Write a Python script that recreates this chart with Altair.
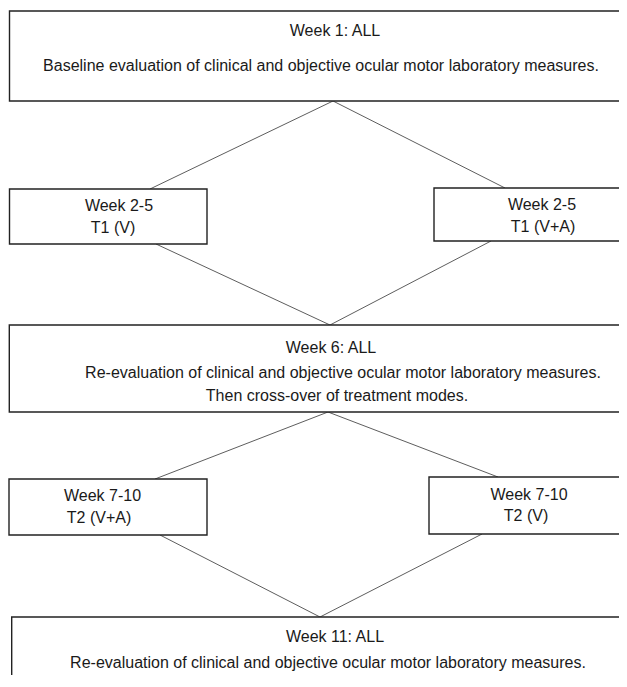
import altair as alt
import pandas as pd

# ---- flowchart nodes (boxes) ----
box_name = ["week1", "t1_v", "t1_va", "week6", "t2_va", "t2_v", "week11"]
box_left = [9.5, 9.5, 434, 9.3, 9, 429, 11.7]
box_right = [660, 207, 660, 660, 207, 660, 660]
box_top = [11, 189, 188, 325, 479, 477, 617]
box_bottom = [101, 244, 241, 412, 535, 534, 720]

# ---- connectors ----
link_x1 = [333, 333, 156, 491, 328, 328, 160, 482]
link_y1 = [101, 101, 244, 241, 412, 412, 535, 534]
link_x2 = [150, 505, 330, 330, 155, 498, 320, 320]
link_y2 = [189, 188, 325, 325, 479, 477, 617, 617]

# ---- labels ----
label_text = [
    "Week 1: ALL",
    "Baseline evaluation of clinical and objective ocular motor laboratory measures.",
    "Week 2-5", "T1 (V)",
    "Week 2-5", "T1 (V+A)",
    "Week 6: ALL",
    "Re-evaluation of clinical and objective ocular motor laboratory measures.",
    "Then cross-over of treatment modes.",
    "Week 7-10", "T2 (V+A)",
    "Week 7-10", "T2 (V)",
    "Week 11: ALL",
    "Re-evaluation of clinical and objective ocular motor laboratory measures.",
]
label_x = [335, 321, 119, 113, 542, 543, 331, 343, 337, 102.5, 99, 529, 526, 335, 328]
label_y = [31, 66, 206, 228, 205, 227, 348, 373, 396, 496, 518, 495, 516, 637, 663]
label_size = [16, 16, 16, 16, 16, 16, 16, 16, 16, 16, 16, 16, 16, 16, 16]

boxes = pd.DataFrame({"name": box_name, "x": box_left, "x2": box_right,
                      "y": box_top, "y2": box_bottom})
links = pd.DataFrame({"x": link_x1, "y": link_y1, "x2": link_x2, "y2": link_y2})
labels = pd.DataFrame({"text": label_text, "x": label_x, "y": label_y, "size": label_size})

X_MIN, X_MAX = 8, 619
Y_MIN, Y_MAX = 8, 675
xs = alt.Scale(domain=[X_MIN, X_MAX], nice=False, zero=False)
ys = alt.Scale(domain=[Y_MIN, Y_MAX], nice=False, zero=False, reverse=True)

link_layer = alt.Chart(links).mark_rule(stroke="#333333", strokeWidth=0.8, clip=True).encode(
    x=alt.X("x:Q", scale=xs, axis=None),
    y=alt.Y("y:Q", scale=ys, axis=None),
    x2="x2:Q",
    y2="y2:Q",
)

box_layer = alt.Chart(boxes).mark_rect(fill="white", stroke="#222222", strokeWidth=1.4, clip=True).encode(
    x=alt.X("x:Q", scale=xs, axis=None),
    x2="x2:Q",
    y=alt.Y("y:Q", scale=ys, axis=None),
    y2="y2:Q",
)

text_layer = alt.Chart(labels).mark_text(
    font="Liberation Sans", align="center", baseline="middle", color="#1a1a1a"
).encode(
    x=alt.X("x:Q", scale=xs, axis=None),
    y=alt.Y("y:Q", scale=ys, axis=None),
    text="text:N",
    size=alt.Size("size:Q", scale=None, legend=None),
)

chart = alt.layer(link_layer, box_layer, text_layer).properties(
    width=X_MAX - X_MIN, height=Y_MAX - Y_MIN, background="white", padding=0,
    autosize=alt.AutoSizeParams(type="none"),
).configure_view(stroke=None)

chart.save("out.html", embed_options={"renderer": "svg", "actions": False})
